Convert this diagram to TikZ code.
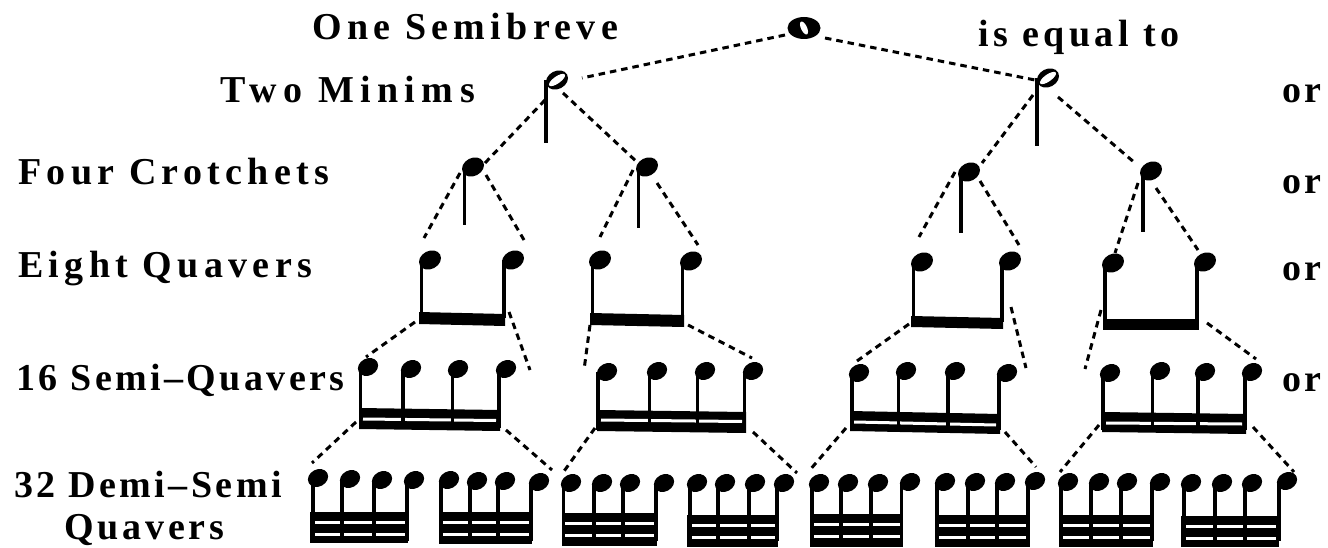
\documentclass[tikz,border=0pt]{standalone}
\usepackage{fontspec}
\setmainfont{Liberation Serif}
\usetikzlibrary{shapes.geometric}
\tikzset{
  labeltext/.style={anchor=base west,inner sep=0pt,font=\fontsize{38}{38}\selectfont\bfseries},
  headnote/.style={shape=ellipse,fill=black,inner sep=0pt,minimum width=23pt,minimum height=18pt,rotate=28},
  smallhead/.style={headnote,minimum width=21pt,minimum height=17pt},
  hollow/.style={shape=ellipse,fill=white,inner sep=0pt,minimum width=19pt,minimum height=7pt,rotate=35},
  dashline/.style={line width=3pt,dash pattern=on 6.5pt off 5pt},
  stemline/.style={line width=3.6pt},
  whiteline/.style={white,line width=3pt}
}
% label: name, x, baseline, letterspace, text
\newcommand\lab[5]{\node[labeltext] (#1) at (#2,#3) {\addfontfeature{LetterSpace=#4}#5};}
% note: name, head x, head y, stem x, stem bottom
\newcommand\nt[5]{\draw[stemline] (#4,#3) -- (#4,#5); \node[headnote] (#1) at (#2,#3) {};}
\newcommand\ns[5]{\draw[stemline] (#4,#3) -- (#4,#5); \node[smallhead] (#1) at (#2,#3) {};}
% beam: xl, yl top, xr, yr top, height
\newcommand\beam[5]{\fill (#1,#2) -- (#3,#4) -- (#3,#4+#5) -- (#1,#2+#5) -- cycle;}
% connector: name, x1,y1,x2,y2
\newcommand\conn[5]{\coordinate (#1a) at (#2,#3); \coordinate (#1b) at (#4,#5); \draw[dashline] (#1a) -- (#1b);}
\begin{document}
\begin{tikzpicture}[x=1pt,y=-1pt]
\useasboundingbox (0,0) rectangle (1328,548);
% labels
\lab{t1}{312}{40}{14}{One Semibreve}
\lab{t2}{978}{47}{12}{is equal to}
\lab{t3}{220}{103}{17}{Two Minims}
\lab{t4}{18}{185}{14}{Four Crotchets}
\lab{t5}{18}{277}{14}{Eight Quavers}
\lab{t6}{16}{390}{9}{16 Semi–Quavers}
\lab{t7}{14}{497}{9}{32 Demi–Semi}
\lab{t8}{64}{539}{10}{Quavers}
\lab{o1}{1282}{103}{8}{or}
\lab{o2}{1282}{194}{8}{or}
\lab{o3}{1282}{280}{8}{or}
\lab{o4}{1282}{391}{8}{or}
% semibreve
\node[shape=ellipse,fill=black,inner sep=0pt,minimum width=33pt,minimum height=22pt] (sb) at (804,28) {};
\node[shape=ellipse,fill=white,inner sep=0pt,minimum width=14pt,minimum height=6pt,rotate=-65] (sbh) at (804,28) {};
% minims
\nt{m1}{557}{80}{546}{143}
\node[hollow] (m1h) at (557,80) {};
\nt{m2}{1048}{78}{1037}{146}
\node[hollow] (m2h) at (1048,78) {};
% crotchets
\nt{c1}{473}{167}{464.5}{225}
\nt{c2}{647}{167}{638.5}{228}
\nt{c3}{969}{172}{961}{233}
\nt{c4}{1151}{171}{1143}{232}
% quavers
\beam{419}{312}{505}{314}{12}
\nt{q1a}{430}{260}{421.5}{318}
\nt{q1b}{513}{260}{504}{318}
\beam{590}{313}{684}{315}{12}
\nt{q2a}{600}{260}{592.5}{318}
\nt{q2b}{691}{261}{682.5}{318}
\beam{911}{316}{1003}{318}{11}
\nt{q3a}{922}{262}{913.5}{320}
\nt{q3b}{1010}{261}{1002}{322}
\beam{1103}{319}{1199}{319}{11}
\nt{q4a}{1113}{263}{1105}{322}
\nt{q4b}{1205}{262}{1197}{322}
% semiquavers
\beam{359}{408}{500}{410}{21}
\draw[whiteline] (363,419) -- (496,420.5);
\ns{s1a}{368}{367}{360.5}{428}
\ns{s1b}{411}{369}{403}{428}
\ns{s1c}{458}{369}{452.5}{428}
\ns{s1d}{506}{369}{499}{428}
\beam{597}{410}{746}{412}{21}
\draw[whiteline] (601,420) -- (742,421.5);
\ns{s2a}{607}{372}{598}{430}
\ns{s2b}{657}{371}{649.5}{430}
\ns{s2c}{705}{371}{697.5}{430}
\ns{s2d}{753}{371}{744.5}{430}
\beam{850}{411}{1000}{414}{20}
\draw[whiteline] (854,422) -- (996,425);
\ns{s3a}{859}{373}{852}{430}
\ns{s3b}{906}{371}{898.5}{430}
\ns{s3c}{955}{371}{948}{430}
\ns{s3d}{1007}{373}{999}{430}
\beam{1102}{412}{1246}{414}{20}
\draw[whiteline] (1106,423) -- (1242,424);
\ns{s4a}{1110}{373}{1103}{430}
\ns{s4b}{1160}{371}{1152.5}{430}
\ns{s4c}{1205}{372}{1198}{430}
\ns{s4d}{1252}{372}{1245}{430}
% demisemiquavers
\newcommand\threebar[4]{\beam{#1}{#2}{#3}{#2}{#4}
  \draw[whiteline] (#1+3,#2+10) -- (#3-3,#2+10);
  \draw[whiteline] (#1+3,#2+22) -- (#3-3,#2+22);}
\threebar{310}{512}{408}{31}
\ns{d1a}{318}{478}{313}{541}
\ns{d1b}{350}{479}{342}{541}
\ns{d1c}{382}{480}{374}{541}
\ns{d1d}{414}{480}{407}{541}
\threebar{439}{512}{532}{32}
\ns{d2a}{449}{480}{441}{541}
\ns{d2b}{477}{481}{470}{541}
\ns{d2c}{505}{481}{498}{541}
\ns{d2d}{539}{482}{531}{541}
\threebar{562}{513}{657}{33}
\ns{d3a}{571}{483}{563.5}{541}
\ns{d3b}{602}{483}{594}{541}
\ns{d3c}{630}{483}{623}{541}
\ns{d3d}{664}{483}{656}{541}
\threebar{687}{515}{778}{32}
\ns{d4a}{697}{483}{690}{541}
\ns{d4b}{725}{483}{718}{541}
\ns{d4c}{755}{483}{749}{541}
\ns{d4d}{784}{483}{777}{541}
\threebar{810}{514}{903}{33}
\ns{d5a}{819}{483}{812}{541}
\ns{d5b}{848}{483}{841}{541}
\ns{d5c}{878}{483}{871}{541}
\ns{d5d}{910}{482}{901.5}{541}
\threebar{935}{515}{1030}{32}
\ns{d6a}{945}{482}{937}{541}
\ns{d6b}{975}{482}{968}{541}
\ns{d6c}{1005}{482}{997}{541}
\ns{d6d}{1035}{481}{1028}{541}
\threebar{1059}{515}{1153}{32}
\ns{d7a}{1068}{482}{1061}{541}
\ns{d7b}{1099}{482}{1091}{541}
\ns{d7c}{1127}{482}{1121}{541}
\ns{d7d}{1160}{482}{1152}{541}
\threebar{1181}{516}{1279}{31}
\ns{d8a}{1191}{483}{1184}{541}
\ns{d8b}{1222}{483}{1215}{541}
\ns{d8c}{1252}{483}{1245}{541}
\ns{d8d}{1287}{481}{1279}{541}
% connectors
\conn{a1}{785}{35}{582}{78}
\conn{a2}{825}{38}{1035}{80}
\conn{b1}{545}{100}{485}{163}
\conn{b2}{563}{93}{638}{163}
\conn{b3}{1033}{95}{982}{163}
\conn{b4}{1058}{97}{1135}{163}
\conn{c1l}{460}{173}{424}{238}
\conn{c1r}{486}{175}{524}{240}
\conn{c2l}{633}{170}{600}{237}
\conn{c2r}{657}{183}{698}{245}
\conn{c3l}{955}{172}{919}{237}
\conn{c3r}{980}{181}{1019}{245}
\conn{c4l}{1138}{183}{1115}{253}
\conn{c4r}{1156}{188}{1198}{250}
\conn{q1l}{415}{322}{366}{357}
\conn{q1r}{509}{312}{530}{370}
\conn{q2l}{590}{325}{584}{370}
\conn{q2r}{688}{325}{752}{358}
\conn{q3l}{909}{324}{857}{361}
\conn{q3r}{1011}{307}{1026}{368}
\conn{q4l}{1101}{310}{1085}{369}
\conn{q4r}{1207}{323}{1256}{359}
\conn{s1l}{356}{422}{312}{463}
\conn{s1r}{506}{430}{552}{470}
\conn{s2l}{595}{428}{562}{474}
\conn{s2r}{753}{432}{797}{473}
\conn{s3l}{846}{428}{809}{471}
\conn{s3r}{1005}{432}{1036}{467}
\conn{s4l}{1099}{425}{1060}{472}
\conn{s4r}{1253}{427}{1294}{472}
\end{tikzpicture}
\end{document}
